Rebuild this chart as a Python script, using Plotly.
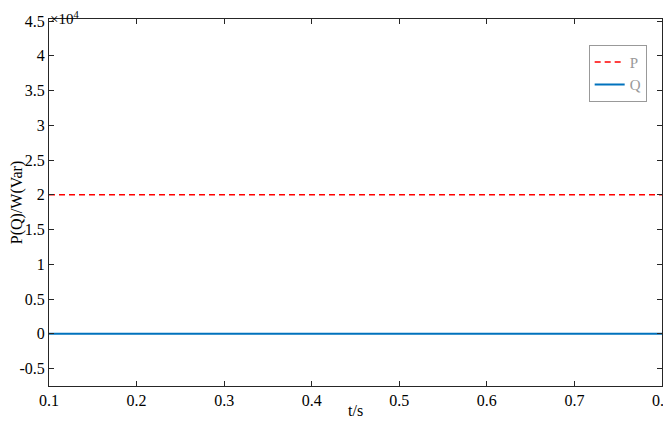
import plotly.graph_objects as go

# time axis (s) and power values
t = [0.1, 0.8]
p_active = [20000, 20000]   # P, W
q_reactive = [0, 0]         # Q, Var

y_ticks = [-5000, 0, 5000, 10000, 15000, 20000, 25000, 30000, 35000, 40000, 45000]
y_labels = ["-0.5", "0", "0.5", "1", "1.5", "2", "2.5", "3", "3.5", "4", "4.5"]
x_ticks = [0.1, 0.2, 0.3, 0.4, 0.5, 0.6, 0.7, 0.8]

font = "Liberation Serif"
axis_col = "#262626"

fig = go.Figure()
fig.add_trace(go.Scatter(
    x=t, y=p_active, mode="lines", name="P",
    line=dict(color="#ff0000", width=1.5, dash="6px,4px"),
))
fig.add_trace(go.Scatter(
    x=t, y=q_reactive, mode="lines", name="Q",
    line=dict(color="#0072bd", width=2),
))

axis_common = dict(
    showgrid=False, zeroline=False, showline=True, linecolor=axis_col,
    linewidth=1, mirror="ticks", ticks="inside", ticklen=5,
    tickcolor=axis_col, automargin=False,
    tickfont=dict(family=font, size=16, color="#000"),
)

fig.update_xaxes(
    range=[0.1, 0.8], tickvals=x_ticks,
    ticktext=[f"{v:g}" for v in x_ticks],
    **axis_common,
)
fig.update_yaxes(
    range=[-7500, 45300], tickvals=y_ticks, ticktext=y_labels,
    title=dict(text="P(Q)/W(Var)", font=dict(family=font, size=16, color="#000"), standoff=6),
    **axis_common,
)

# x-axis title placed just under the tick labels
fig.add_annotation(
    x=0.5, y=0, xref="paper", yref="paper", xanchor="center", yanchor="middle",
    text="t/s", showarrow=False, yshift=-24,
    font=dict(family=font, size=16, color="#000"),
)

# exponent label above the y axis
fig.add_annotation(
    x=0, y=1, xref="paper", yref="paper", xanchor="left", yanchor="top",
    text="×10<sup>4</sup>", showarrow=False, borderpad=0,
    font=dict(family=font, size=15, color="#000"), yshift=11, xshift=0,
)

fig.update_layout(
    width=671, height=421,
    margin=dict(l=41, r=17, t=11, b=43),
    plot_bgcolor="white", paper_bgcolor="white",
    font=dict(family=font, size=16),
    legend=dict(
        x=0.975, y=0.93, xanchor="right", yanchor="top",
        bgcolor="white", bordercolor="#999999", borderwidth=1,
        font=dict(family=font, size=15, color="#999999"),
        tracegroupgap=0, itemwidth=30,
    ),
)

fig.write_html("out.html")
